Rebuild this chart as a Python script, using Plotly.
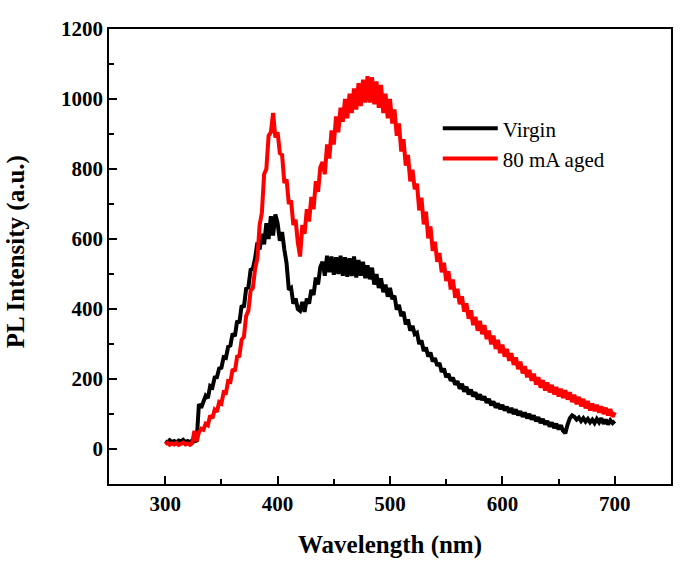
import plotly.graph_objects as go

# Wavelength grid (nm), 2 nm step from 300 to 700
wavelength = list(range(300, 701, 2))

virgin = [
    22, 18, 25, 20, 23, 19, 24, 21, 26, 20,
    23, 19, 25, 22, 24, 128, 118, 140, 152, 145,
    180, 176, 204, 205, 230, 232, 262, 260, 292, 296,
    330, 322, 366, 360, 410, 405, 458, 462, 512, 515,
    545, 590, 570, 615, 585, 645, 600, 665, 610, 670,
    645, 595, 620, 570, 530, 455, 460, 415, 430, 400,
    395, 420, 392, 430, 415, 455, 440, 490, 470, 520,
    535, 495, 552, 505, 550, 498, 548, 500, 552, 495,
    548, 492, 545, 494, 550, 490, 540, 495, 535, 488,
    525, 485, 518, 470, 500, 460, 488, 448, 470, 435,
    460, 428, 438, 398, 412, 380, 392, 356, 370, 338,
    352, 328, 332, 300, 310, 280, 290, 264, 276, 250,
    260, 238, 246, 220, 230, 205, 215, 195, 204, 184,
    194, 172, 186, 164, 178, 156, 170, 150, 162, 142,
    156, 140, 150, 132, 143, 125, 136, 118, 130, 114,
    126, 110, 121, 104, 117, 100, 113, 96, 108, 92,
    104, 88, 100, 84, 96, 79, 91, 74, 86, 70,
    80, 64, 76, 60, 72, 56, 68, 52, 45, 70,
    88, 96, 92, 84, 90, 80, 88, 78, 86, 76,
    84, 74, 86, 76, 88, 72, 84, 70, 82, 74,
    80,
]

aged_80mA = [
    14, 18, 12, 16, 13, 17, 12, 15, 18, 13,
    16, 12, 17, 52, 22, 48, 58, 55, 72, 68,
    96, 88, 112, 106, 134, 130, 162, 160, 194, 192,
    228, 222, 264, 266, 312, 320, 380, 395, 452, 460,
    515, 545, 640, 675, 785, 800, 895, 905, 960, 890,
    905, 845, 840, 760, 770, 700, 710, 640, 655, 590,
    550, 640, 615, 685, 650, 720, 685, 765, 735, 805,
    820, 785, 870, 830, 910, 870, 950, 905, 975, 935,
    1000, 945, 1015, 960, 1030, 970, 1045, 980, 1055, 990,
    1065, 990, 1062, 985, 1050, 975, 1040, 960, 1015, 945,
    1000, 930, 970, 895, 930, 850, 885, 810, 840, 765,
    798, 742, 758, 682, 718, 642, 678, 602, 636, 566,
    592, 535, 560, 505, 532, 480, 508, 456, 484, 432,
    458, 414, 436, 392, 416, 372, 396, 354, 378, 338,
    366, 328, 354, 314, 338, 299, 324, 286, 312, 274,
    298, 264, 286, 252, 274, 240, 262, 228, 250, 216,
    237, 205, 226, 195, 215, 184, 205, 175, 197, 167,
    190, 162, 183, 156, 177, 150, 172, 146, 168, 141,
    162, 134, 155, 128, 149, 122, 143, 116, 137, 110,
    130, 108, 126, 104, 122, 100, 118, 96, 114, 92,
    105,
]

series_names = ["Virgin", "80 mA aged"]
series_colors = ["#000000", "#ff0000"]
x_ticks = [300, 400, 500, 600, 700]
y_ticks = [0, 200, 400, 600, 800, 1000, 1200]

SERIF = "Liberation Serif, Times New Roman, serif"

fig = go.Figure()
for name, vals, col in zip(series_names, [virgin, aged_80mA], series_colors):
    fig.add_trace(go.Scatter(
        x=wavelength, y=vals, mode="lines", name=name,
        line=dict(color=col, width=4),
    ))

axis_common = dict(
    showline=True, linecolor="black", linewidth=1.5, mirror=True,
    ticks="inside", ticklen=8, tickwidth=1.5, tickcolor="black",
    showgrid=False, zeroline=False,
    tickfont=dict(family=SERIF, size=21, color="black", weight="bold"),
)

fig.update_xaxes(
    range=[250, 750], tickvals=x_ticks,
    minor=dict(ticks="inside", ticklen=5, dtick=50, tickwidth=1.5, tickcolor="black"),
    **axis_common,
)
fig.update_yaxes(
    range=[-100, 1200], tickvals=y_ticks,
    minor=dict(ticks="inside", ticklen=5, dtick=100, tickwidth=1.5, tickcolor="black"),
    **axis_common,
)

fig.add_annotation(
    text="Wavelength (nm)", xref="paper", yref="paper", x=0.5, y=-0.135,
    xanchor="center", yanchor="middle", showarrow=False,
    font=dict(family=SERIF, size=25, color="black", weight="bold"),
)
fig.add_annotation(
    text="PL Intensity (a.u.)", xref="paper", yref="paper", x=-0.165, y=0.51,
    xanchor="center", yanchor="middle", showarrow=False, textangle=-90,
    font=dict(family=SERIF, size=25, color="black", weight="bold"),
)

fig.update_layout(
    width=685, height=567,
    margin=dict(l=109, r=12, t=29, b=83),
    paper_bgcolor="white", plot_bgcolor="white",
    showlegend=True,
    legend=dict(
        x=0.585, y=0.826, xanchor="left", yanchor="top",
        bgcolor="rgba(0,0,0,0)", borderwidth=0,
        font=dict(family=SERIF, size=21, color="black"),
        itemwidth=55, tracegroupgap=0,
    ),
)

fig.write_html(
    "out.html",
    config={"displayModeBar": False},
    post_script="document.body.style.margin='0';",
)
